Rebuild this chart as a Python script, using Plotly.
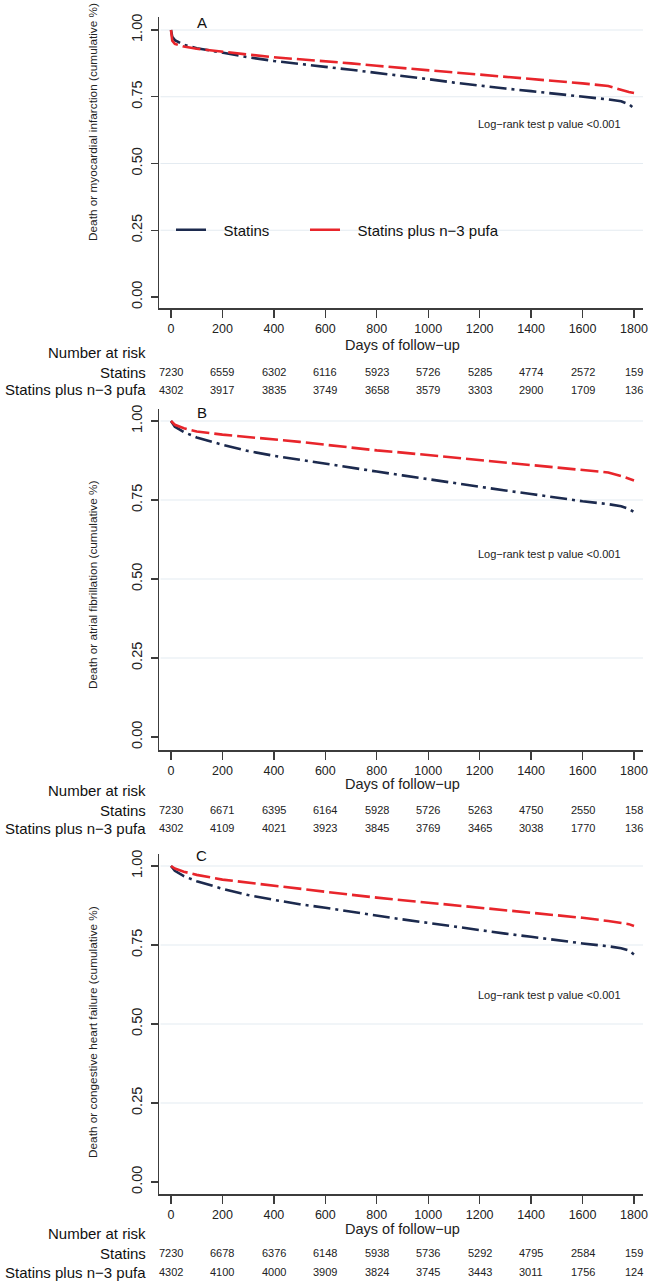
import plotly.graph_objects as go

# ---------------- data ----------------
DAYS = [0, 5, 15, 50, 100, 200, 300, 400, 500, 600, 700, 800, 900, 1000,
        1100, 1200, 1300, 1400, 1500, 1600, 1700, 1750, 1780, 1800]

A_STATINS = [1.0, 0.975, 0.962, 0.945, 0.932, 0.915, 0.898, 0.884, 0.872, 0.862,
             0.851, 0.840, 0.828, 0.816, 0.803, 0.791, 0.781, 0.771, 0.761, 0.751,
             0.740, 0.733, 0.722, 0.707]
A_PUFA = [1.0, 0.960, 0.948, 0.938, 0.930, 0.918, 0.908, 0.898, 0.891, 0.884,
          0.875, 0.866, 0.857, 0.849, 0.841, 0.833, 0.825, 0.817, 0.809, 0.800,
          0.790, 0.775, 0.768, 0.764]

B_STATINS = [1.0, 0.993, 0.982, 0.965, 0.948, 0.925, 0.905, 0.890, 0.877, 0.865,
             0.852, 0.840, 0.828, 0.816, 0.803, 0.790, 0.780, 0.769, 0.757, 0.746,
             0.737, 0.730, 0.722, 0.712]
B_PUFA = [1.0, 0.995, 0.988, 0.977, 0.967, 0.957, 0.950, 0.943, 0.934, 0.925,
          0.915, 0.907, 0.900, 0.892, 0.884, 0.876, 0.868, 0.861, 0.852, 0.845,
          0.837, 0.826, 0.818, 0.812]

C_STATINS = [1.0, 0.994, 0.985, 0.968, 0.952, 0.928, 0.908, 0.893, 0.879, 0.868,
             0.855, 0.843, 0.831, 0.820, 0.808, 0.797, 0.786, 0.776, 0.765, 0.755,
             0.746, 0.740, 0.733, 0.720]
C_PUFA = [1.0, 0.997, 0.992, 0.982, 0.972, 0.957, 0.947, 0.937, 0.927, 0.918,
          0.909, 0.900, 0.892, 0.885, 0.876, 0.868, 0.860, 0.852, 0.843, 0.836,
          0.826, 0.821, 0.816, 0.810]

X_TICKS = [0, 200, 400, 600, 800, 1000, 1200, 1400, 1600, 1800]
Y_TICKS = [0.0, 0.25, 0.5, 0.75, 1.0]
Y_TICKTEXT = ["0.00", "0.25", "0.50", "0.75", "1.00"]
GRID_VALUES = [0.25, 0.5, 0.75, 1.0]

RISK_A_STATINS = [7230, 6559, 6302, 6116, 5923, 5726, 5285, 4774, 2572, 159]
RISK_A_PUFA = [4302, 3917, 3835, 3749, 3658, 3579, 3303, 2900, 1709, 136]
RISK_B_STATINS = [7230, 6671, 6395, 6164, 5928, 5726, 5263, 4750, 2550, 158]
RISK_B_PUFA = [4302, 4109, 4021, 3923, 3845, 3769, 3465, 3038, 1770, 136]
RISK_C_STATINS = [7230, 6678, 6376, 6148, 5938, 5736, 5292, 4795, 2584, 159]
RISK_C_PUFA = [4302, 4100, 4000, 3909, 3824, 3745, 3443, 3011, 1756, 124]

GROUPS = ["Statins", "Statins plus n\u22123 pufa"]
Y_TITLES = ["Death or myocardial infarction (cumulative %)",
            "Death or atrial fibrillation (cumulative %)",
            "Death or congestive heart failure (cumulative %)"]
LETTERS = ["A", "B", "C"]
LOGRANK = "Log\u2212rank test p value <0.001"
X_TITLE = "Days of follow\u2212up"

# ---------------- styling / layout ----------------
W, H = 672, 1286
FONT = "Liberation Sans, Arial, Helvetica, sans-serif"
NAVY = "#1c2a4e"
RED = "#e8252b"
AXIS = "#3c3c3c"
GRID = "#e4ebf1"

def py(p):
    return 1 - p / H

X_DOM = [159 / W, 643 / W]
X_RANGE = [-46.6, 1835]

PANELS = [
    dict(bot=308, top=17, rng=[-0.0412, 1.0487], title_c=122, letter_y=22,
         logrank_y=0.648, xt=345, nar=352, r1=372, r2=390),
    dict(bot=750, top=409, rng=[-0.0411, 1.038], title_c=585, letter_y=413,
         logrank_y=0.578, xt=784, nar=790, r1=810, r2=828),
    dict(bot=1194, top=854, rng=[-0.038, 1.038], title_c=1032, letter_y=855,
         logrank_y=0.592, xt=1229, nar=1233, r1=1253, r2=1272),
]

SERIES = [(A_STATINS, A_PUFA), (B_STATINS, B_PUFA), (C_STATINS, C_PUFA)]
RISKS = [(RISK_A_STATINS, RISK_A_PUFA), (RISK_B_STATINS, RISK_B_PUFA),
         (RISK_C_STATINS, RISK_C_PUFA)]

fig = go.Figure()
annotations = []
shapes = []

def ann(**kw):
    base = dict(showarrow=False, xanchor="center", yanchor="middle")
    base.update(kw)
    annotations.append(base)

for i, (pan, (s_stat, s_pufa), (r_stat, r_pufa)) in enumerate(zip(PANELS, SERIES, RISKS)):
    n = "" if i == 0 else str(i + 1)
    xa, ya = "x" + n, "y" + n
    fig.add_trace(go.Scatter(x=DAYS, y=s_stat, mode="lines", xaxis=xa, yaxis=ya,
                             line=dict(color=NAVY, width=2.6, dash="17px,5px,3px,5px"),
                             showlegend=False, hoverinfo="skip"))
    fig.add_trace(go.Scatter(x=DAYS, y=s_pufa, mode="lines", xaxis=xa, yaxis=ya,
                             line=dict(color=RED, width=2.6, dash="18px,5px"),
                             showlegend=False, hoverinfo="skip"))

    dom = [py(pan["bot"]), py(pan["top"])]
    fig.update_layout(**{
        "xaxis" + n: dict(domain=X_DOM, range=X_RANGE, anchor=ya, showline=True,
                          linecolor=AXIS, linewidth=1.5, ticks="outside", ticklen=8,
                          tickwidth=1.3, tickcolor=AXIS, tickvals=X_TICKS,
                          tickfont=dict(size=12.5, color="#222", family=FONT),
                          showgrid=False, zeroline=False, fixedrange=True,
                          automargin=False),
        "yaxis" + n: dict(domain=dom, range=pan["rng"], anchor=xa, showline=True,
                          linecolor=AXIS, linewidth=1.5, ticks="outside", ticklen=7,
                          tickwidth=1.3, tickcolor=AXIS, tickvals=Y_TICKS,
                          ticktext=Y_TICKTEXT, tickangle=-90, ticklabelstandoff=3,
                          tickfont=dict(size=14.5, color="#222", family=FONT),
                          showgrid=False, zeroline=False, fixedrange=True,
                          automargin=False),
    })
    for g in GRID_VALUES:
        shapes.append(dict(type="line", xref=xa + " domain", yref=ya, x0=0.003, x1=1,
                           y0=g, y1=g, line=dict(color=GRID, width=1.2), layer="below"))

    ann(text=Y_TITLES[i], xref="paper", yref="paper", x=93 / W,
        y=py(pan["title_c"]), textangle=-90,
        font=dict(size=11.8, color="#222", family=FONT))
    ann(text=LETTERS[i], xref=xa, yref="paper", x=120, y=py(pan["letter_y"]),
        font=dict(size=15, color="#111", family=FONT))
    ann(text=LOGRANK, xref=xa, yref=ya, x=1757, xanchor="right", y=pan["logrank_y"],
        font=dict(size=11, color="#222", family=FONT))
    ann(text=X_TITLE, xref=xa, yref="paper", x=900, y=py(pan["xt"]),
        font=dict(size=14.5, color="#222", family=FONT))
    for label, row in (("Number at risk", "nar"), (GROUPS[0], "r1"), (GROUPS[1], "r2")):
        ann(text=label, xref="paper", yref="paper", x=148 / W, xanchor="right",
            y=py(pan[row]), font=dict(size=15, color="#111", family=FONT))
    for t, v1, v2 in zip(X_TICKS, r_stat, r_pufa):
        ann(text=str(v1), xref=xa, yref="paper", x=t, y=py(pan["r1"]),
            font=dict(size=11, color="#222", family=FONT))
        ann(text=str(v2), xref=xa, yref="paper", x=t, y=py(pan["r2"]),
            font=dict(size=11, color="#222", family=FONT))

# legend entries (solid samples as in the reference key)
NB = "\u00a0\u00a0\u00a0"
fig.add_trace(go.Scatter(x=[None], y=[None], mode="lines", name=NB + GROUPS[0],
                         line=dict(color=NAVY, width=2.6), legend="legend"))
fig.add_trace(go.Scatter(x=[None], y=[None], mode="lines", name=NB + GROUPS[1],
                         line=dict(color=RED, width=2.6), legend="legend2"))

leg_common = dict(orientation="h", yanchor="middle", xanchor="left",
                  bgcolor="rgba(0,0,0,0)", borderwidth=0,
                  font=dict(size=15, color="#111", family=FONT))
fig.update_layout(
    template="none",
    width=W, height=H, autosize=False,
    margin=dict(l=0, r=0, t=0, b=0, pad=0),
    paper_bgcolor="white", plot_bgcolor="white",
    font=dict(family=FONT),
    legend=dict(x=171 / W, y=py(230), **leg_common),
    legend2=dict(x=305 / W, y=py(230), **leg_common),
    annotations=annotations, shapes=shapes,
)

fig.write_html("out.html", config={"displayModeBar": False, "staticPlot": True},
               post_script="document.body.style.margin='0';")
